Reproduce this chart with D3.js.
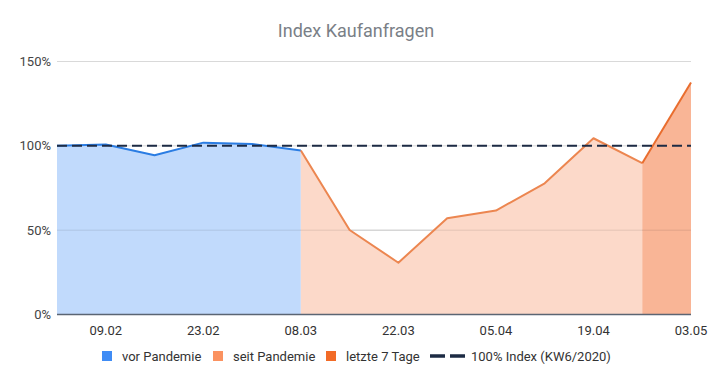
<!DOCTYPE html>
<html>
<head>
<meta charset="utf-8">
<script src="https://cdn.jsdelivr.net/npm/d3@7"></script>
<style>
  body { margin: 0; background: #fff; font-family: Roboto, "Noto Sans", sans-serif; }
  svg text { font-family: Roboto, "Noto Sans", sans-serif; }
</style>
</head>
<body>
<div id="chart"></div>
<script>
// Weekly dates (Sunday) and index values in percent
const weeks = ["02.02", "09.02", "16.02", "23.02", "01.03", "08.03", "15.03",
               "22.03", "29.03", "05.04", "12.04", "19.04", "26.04", "03.05"];
const values = [100, 100.8, 94.4, 101.9, 101.1, 97.2, 50.1,
                30.7, 57.1, 61.6, 77.8, 104.5, 89.7, 137.5];
const shownTicks = ["09.02", "23.02", "08.03", "22.03", "05.04", "19.04", "03.05"];
const yTicks = [0, 50, 100, 150];
const referenceValue = 100;

// Segments: [start index, end index]
const segments = [
    { name: "vor Pandemie", from: 0, to: 5, line: "#2b7de3", fill: "#c1dafc", legend: "#3f8cf5" },
    { name: "seit Pandemie", from: 5, to: 12, line: "#ec8650", fill: "#fcd9c9", legend: "#fb9260" },
    { name: "letzte 7 Tage", from: 12, to: 13, line: "#e96d2e", fill: "#f9b596", legend: "#f26b27" }
];

const width = 710;
const height = 384;
const m = { top: 61.5, right: 19, bottom: 69.5, left: 57 };

const svg = d3.select("#chart").append("svg")
    .attr("width", width)
    .attr("height", height);

const x = d3.scaleLinear()
    .domain([0, weeks.length - 1])
    .range([m.left, width - m.right]);

const y = d3.scaleLinear()
    .domain([0, 150])
    .range([height - m.bottom, m.top]);

// Title
svg.append("text")
    .attr("x", 356)
    .attr("y", 37)
    .attr("text-anchor", "middle")
    .attr("font-size", "18px")
    .attr("fill", "#7a7f87")
    .text("Index Kaufanfragen");

// Grid lines
svg.append("g")
    .selectAll("line")
    .data(yTicks.filter(d => d > 0))
    .join("line")
    .attr("x1", m.left)
    .attr("x2", width - m.right)
    .attr("y1", d => y(d))
    .attr("y2", d => y(d))
    .attr("stroke", "#d9d9d9")
    .attr("stroke-width", 1);

// Areas
const area = d3.area()
    .x(d => x(d.i))
    .y0(y(0))
    .y1(d => y(d.v));

const line = d3.line()
    .x(d => x(d.i))
    .y(d => y(d.v));

const pts = values.map((v, i) => ({ i, v }));

segments.forEach(s => {
    const seg = pts.slice(s.from, s.to + 1);
    svg.append("path")
        .datum(seg)
        .attr("d", area)
        .attr("fill", s.fill);
});

// 50% grid shows faintly over fills
svg.append("line")
    .attr("x1", m.left)
    .attr("x2", width - m.right)
    .attr("y1", y(50))
    .attr("y2", y(50))
    .attr("stroke", "#000")
    .attr("stroke-opacity", 0.1);

segments.forEach(s => {
    const seg = pts.slice(s.from, s.to + 1);
    svg.append("path")
        .datum(seg)
        .attr("d", line)
        .attr("fill", "none")
        .attr("stroke", s.line)
        .attr("stroke-width", 2)
        .attr("stroke-linejoin", "round");
});

// Reference dashed line
svg.append("line")
    .attr("x1", m.left)
    .attr("x2", width - m.right)
    .attr("y1", y(referenceValue))
    .attr("y2", y(referenceValue))
    .attr("stroke", "#1d2b44")
    .attr("stroke-width", 2)
    .attr("stroke-dasharray", "10,5");

// Baseline
svg.append("line")
    .attr("x1", m.left)
    .attr("x2", width - m.right)
    .attr("y1", y(0))
    .attr("y2", y(0))
    .attr("stroke", "#5b6573")
    .attr("stroke-width", 1.5);

// Y axis labels
svg.append("g")
    .selectAll("text")
    .data(yTicks)
    .join("text")
    .attr("x", 51)
    .attr("y", d => y(d))
    .attr("dy", "0.35em")
    .attr("text-anchor", "end")
    .attr("font-size", "13px")
    .attr("fill", "#444")
    .text(d => d + "%");

// X axis labels
svg.append("g")
    .selectAll("text")
    .data(shownTicks)
    .join("text")
    .attr("x", d => x(weeks.indexOf(d)))
    .attr("y", 335)
    .attr("text-anchor", "middle")
    .attr("font-size", "13px")
    .attr("fill", "#333")
    .text(d => d);

// Legend
const legend = svg.append("g").attr("transform", "translate(0, 356)");
const legendItems = [
    { x: 102, label: "vor Pandemie", color: segments[0].legend },
    { x: 213, label: "seit Pandemie", color: segments[1].legend },
    { x: 326, label: "letzte 7 Tage", color: segments[2].legend }
];

legendItems.forEach(d => {
    legend.append("rect")
        .attr("x", d.x)
        .attr("y", -5)
        .attr("width", 10)
        .attr("height", 10)
        .attr("fill", d.color);
    legend.append("text")
        .attr("x", d.x + 20)
        .attr("y", 0)
        .attr("dy", "0.35em")
        .attr("font-size", "13px")
        .attr("fill", "#333")
        .text(d.label);
});

legend.append("line")
    .attr("x1", 430)
    .attr("x2", 465)
    .attr("y1", 0)
    .attr("y2", 0)
    .attr("stroke", "#1d2b44")
    .attr("stroke-width", 3.5)
    .attr("stroke-dasharray", "15,5");

legend.append("text")
    .attr("x", 471)
    .attr("y", 0)
    .attr("dy", "0.35em")
    .attr("font-size", "13px")
    .attr("fill", "#333")
    .text("100% Index (KW6/2020)");
</script>
</body>
</html>
